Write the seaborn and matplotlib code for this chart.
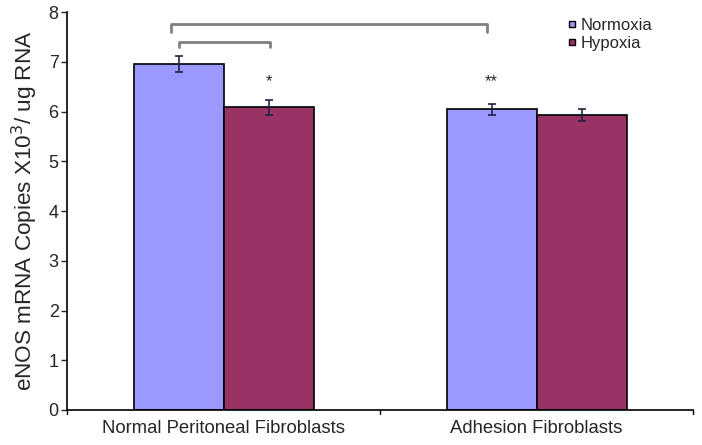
import matplotlib
matplotlib.use("Agg")
import matplotlib.pyplot as plt
import seaborn as sns
import pandas as pd

# values
groups = ["Normal Peritoneal Fibroblasts", "Adhesion Fibroblasts"]
conditions = ["Normoxia", "Hypoxia"]
normoxia = [6.95, 6.05]
hypoxia = [6.09, 5.93]
normoxia_err = [0.16, 0.11]
hypoxia_err = [0.15, 0.12]
colors = ["#9999FF", "#993366"]

df = pd.DataFrame({
    "group": groups * 2,
    "condition": ["Normoxia"] * 2 + ["Hypoxia"] * 2,
    "value": normoxia + hypoxia,
    "err": normoxia_err + hypoxia_err,
})

sns.set_style("white")
plt.rcParams["font.family"] = ["Liberation Sans", "DejaVu Sans"]

fig = plt.figure(figsize=(7.02, 4.45), dpi=100)
ax = fig.add_axes([0.0954, 0.0787, 0.892, 0.894])

sns.barplot(data=df, x="group", y="value", hue="condition", order=groups,
            hue_order=conditions, palette=colors, width=0.575, gap=0,
            edgecolor="black", linewidth=1.2, errorbar=None, saturation=1,
            ax=ax)

# error bars at bar centres
for cont, cond in zip(ax.containers, conditions):
    sub = df[df.condition == cond].set_index("group").loc[groups]
    xs = [p.get_x() + p.get_width() / 2 for p in cont.patches]
    ax.errorbar(xs, sub["value"], yerr=sub["err"], fmt="none",
                ecolor="#222244", elinewidth=1.2, capsize=3, capthick=1.2)

# significance brackets
xs_n = [p.get_x() + p.get_width() / 2 for p in ax.containers[0].patches]
xs_h = [p.get_x() + p.get_width() / 2 for p in ax.containers[1].patches]
ax.plot([xs_n[0] - 0.025, xs_n[0] - 0.025, xs_n[1] - 0.015, xs_n[1] - 0.015],
        [7.6, 7.76, 7.76, 7.6], color="#808080", lw=2)
ax.plot([xs_n[0], xs_n[0], xs_h[0] + 0.005, xs_h[0] + 0.005],
        [7.3, 7.4, 7.4, 7.3], color="#808080", lw=2)
ax.text(xs_h[0], 6.6, "*", ha="center", va="center", fontsize=12)
ax.text(xs_n[1], 6.6, "**", ha="center", va="center", fontsize=12)

ax.set_ylim(0, 8)
ax.set_xlim(-0.5, 1.5)
ax.set_yticks(range(0, 9))
ax.set_xticks([0, 1])
ax.set_xticklabels(groups)
ax.tick_params(axis="x", length=0, labelsize=13.3, pad=7)
ax.tick_params(axis="y", length=4, width=1, labelsize=13, left=True, pad=2)
for xv in [-0.5, 0.5, 1.5]:
    ax.plot([xv, xv], [0, -0.08], color="black", lw=1, clip_on=False)
ax.set_xlabel("")
ax.set_ylabel("eNOS mRNA Copies X10$^3$/ ug RNA", fontsize=16.2, labelpad=6)
for s in ["top", "right"]:
    ax.spines[s].set_visible(False)
for s in ["left", "bottom"]:
    ax.spines[s].set_color("black")
    ax.spines[s].set_linewidth(1.2)

handles = [plt.Line2D([], [], marker="s", ls="", markerfacecolor=c,
                      markeredgecolor="black", markersize=5) for c in colors]
ax.legend(handles, conditions, loc="upper left", bbox_to_anchor=(0.78, 1.01),
          frameon=False, fontsize=12, handletextpad=0.1, labelspacing=0.15,
          handlelength=0.8, borderaxespad=0.2)

fig.savefig("out.png", dpi=100)
